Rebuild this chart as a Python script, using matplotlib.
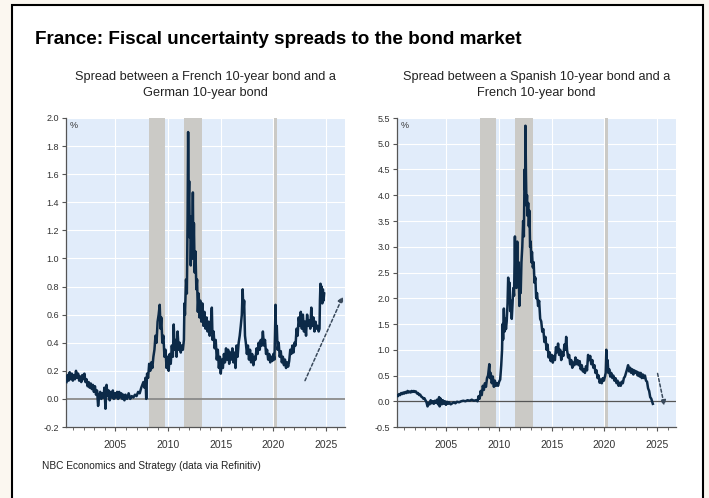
import matplotlib
matplotlib.use('Agg')
import matplotlib.pyplot as plt
from matplotlib.patches import Rectangle
from matplotlib.ticker import MultipleLocator, FormatStrFormatter

plt.rcParams['font.family'] = ['Liberation Sans', 'DejaVu Sans']

# France - Germany 10y spread (%)
fr_de_years = [
    2000.35, 2000.45, 2000.55, 2000.65, 2000.75, 2000.85, 2000.95, 2001.05, 2001.15, 2001.25,
    2001.35, 2001.45, 2001.55, 2001.65, 2001.75, 2001.85, 2001.95, 2002.05, 2002.15, 2002.25,
    2002.35, 2002.45, 2002.55, 2002.65, 2002.75, 2002.85, 2002.95, 2003.05, 2003.15, 2003.25,
    2003.35, 2003.45, 2003.55, 2003.65, 2003.75, 2003.85, 2003.95, 2004.05, 2004.15, 2004.25,
    2004.35, 2004.45, 2004.55, 2004.65, 2004.75, 2004.85, 2004.95, 2005.05, 2005.15, 2005.25,
    2005.35, 2005.45, 2005.55, 2005.65, 2005.75, 2005.85, 2005.95, 2006.1, 2006.25, 2006.4,
    2006.55, 2006.7, 2006.85, 2007.0, 2007.15, 2007.3, 2007.45, 2007.55, 2007.65, 2007.75,
    2007.85, 2007.92, 2008.0, 2008.1, 2008.2, 2008.3, 2008.4, 2008.5, 2008.6, 2008.7,
    2008.8, 2008.9, 2009.0, 2009.1, 2009.2, 2009.28, 2009.35, 2009.45, 2009.55, 2009.65,
    2009.75, 2009.85, 2009.95, 2010.05, 2010.15, 2010.25, 2010.35, 2010.45, 2010.53, 2010.62,
    2010.72, 2010.8, 2010.9, 2011.0, 2011.1, 2011.2, 2011.3, 2011.4, 2011.5, 2011.55,
    2011.6, 2011.7, 2011.78, 2011.85, 2011.9, 2011.95, 2012.0, 2012.05, 2012.1, 2012.15,
    2012.22, 2012.28, 2012.35, 2012.4, 2012.45, 2012.52, 2012.6, 2012.68, 2012.75, 2012.82,
    2012.9, 2012.98, 2013.05, 2013.15, 2013.25, 2013.35, 2013.45, 2013.55, 2013.65, 2013.75,
    2013.85, 2013.95, 2014.05, 2014.15, 2014.22, 2014.32, 2014.42, 2014.52, 2014.62, 2014.72,
    2014.82, 2014.92, 2015.0, 2015.1, 2015.2, 2015.3, 2015.4, 2015.5, 2015.6, 2015.7,
    2015.8, 2015.9, 2016.0, 2016.1, 2016.2, 2016.3, 2016.4, 2016.5, 2016.6, 2016.7,
    2016.8, 2016.9, 2017.0, 2017.08, 2017.15, 2017.22, 2017.3, 2017.38, 2017.48, 2017.58,
    2017.68, 2017.78, 2017.88, 2017.98, 2018.1, 2018.2, 2018.3, 2018.4, 2018.5, 2018.6,
    2018.7, 2018.8, 2018.9, 2019.0, 2019.1, 2019.2, 2019.3, 2019.4, 2019.5, 2019.6,
    2019.7, 2019.8, 2019.9, 2020.0, 2020.1, 2020.2, 2020.25, 2020.32, 2020.4, 2020.5,
    2020.6, 2020.7, 2020.8, 2020.9, 2021.0, 2021.1, 2021.2, 2021.3, 2021.4, 2021.5,
    2021.6, 2021.7, 2021.8, 2021.9, 2022.0, 2022.1, 2022.2, 2022.3, 2022.4, 2022.5,
    2022.6, 2022.7, 2022.8, 2022.9, 2023.0, 2023.1, 2023.2, 2023.3, 2023.4, 2023.5,
    2023.6, 2023.7, 2023.8, 2023.9, 2024.0, 2024.1, 2024.2, 2024.3, 2024.38, 2024.42,
    2024.47, 2024.52, 2024.58, 2024.64, 2024.7, 2024.76, 2024.82,
]
fr_de_spread = [
    0.12, 0.17, 0.13, 0.19, 0.14, 0.18, 0.13, 0.17, 0.14, 0.20,
    0.15, 0.18, 0.13, 0.16, 0.12, 0.17, 0.14, 0.18, 0.12, 0.14,
    0.09, 0.12, 0.08, 0.11, 0.07, 0.10, 0.05, 0.09, 0.03, 0.06,
    -0.05, 0.02, 0.05, 0.00, 0.04, 0.01, 0.08, -0.07, 0.10, 0.02,
    0.06, -0.01, 0.05, 0.01, 0.06, 0.00, 0.04, 0.01, 0.05, 0.00,
    0.05, 0.01, 0.04, 0.00, 0.03, -0.01, 0.03, 0.00, 0.04, 0.00,
    0.02, 0.01, 0.03, 0.02, 0.05, 0.04, 0.08, 0.10, 0.12, 0.08,
    0.15, 0.00, 0.18, 0.15, 0.25, 0.20, 0.26, 0.22, 0.30, 0.35,
    0.45, 0.40, 0.55, 0.60, 0.67, 0.50, 0.58, 0.40, 0.45, 0.30,
    0.35, 0.22, 0.30, 0.20, 0.32, 0.25, 0.38, 0.30, 0.53, 0.35,
    0.42, 0.30, 0.48, 0.35, 0.40, 0.33, 0.38, 0.35, 0.42, 0.68,
    0.60, 0.85, 0.75, 1.30, 1.90, 1.40, 1.55, 1.15, 1.30, 0.95,
    1.20, 1.00, 1.47, 1.00, 1.25, 0.90, 1.05, 0.78, 0.85, 0.62,
    0.75, 0.58, 0.70, 0.55, 0.68, 0.52, 0.62, 0.50, 0.58, 0.48,
    0.55, 0.45, 0.52, 0.65, 0.42, 0.48, 0.36, 0.42, 0.28, 0.35,
    0.22, 0.30, 0.18, 0.28, 0.22, 0.32, 0.26, 0.36, 0.28, 0.35,
    0.25, 0.33, 0.28, 0.36, 0.26, 0.33, 0.22, 0.38, 0.30, 0.40,
    0.45, 0.52, 0.60, 0.78, 0.62, 0.70, 0.45, 0.40, 0.32, 0.38,
    0.28, 0.35, 0.26, 0.32, 0.24, 0.30, 0.28, 0.36, 0.32, 0.40,
    0.35, 0.42, 0.38, 0.48, 0.38, 0.42, 0.32, 0.35, 0.28, 0.32,
    0.26, 0.30, 0.27, 0.32, 0.28, 0.67, 0.45, 0.52, 0.35, 0.40,
    0.30, 0.34, 0.26, 0.30, 0.24, 0.28, 0.22, 0.26, 0.23, 0.27,
    0.35, 0.32, 0.38, 0.33, 0.40, 0.38, 0.50, 0.45, 0.58, 0.52,
    0.62, 0.50, 0.60, 0.48, 0.55, 0.45, 0.60, 0.52, 0.56, 0.50,
    0.65, 0.52, 0.58, 0.48, 0.55, 0.50, 0.52, 0.48, 0.50, 0.70,
    0.82, 0.72, 0.80, 0.68, 0.78, 0.70, 0.75,
]

# Spain - France 10y spread (%)
es_fr_years = [
    2000.2, 2000.3, 2000.4, 2000.5, 2000.6, 2000.7, 2000.8, 2000.9, 2001.0, 2001.1,
    2001.2, 2001.3, 2001.4, 2001.5, 2001.6, 2001.7, 2001.8, 2001.9, 2002.0, 2002.1,
    2002.2, 2002.3, 2002.4, 2002.5, 2002.6, 2002.7, 2002.8, 2002.9, 2003.0, 2003.1,
    2003.2, 2003.3, 2003.4, 2003.5, 2003.6, 2003.7, 2003.8, 2003.9, 2004.0, 2004.1,
    2004.2, 2004.3, 2004.35, 2004.45, 2004.55, 2004.65, 2004.75, 2004.85, 2004.95, 2005.05,
    2005.15, 2005.25, 2005.4, 2005.55, 2005.7, 2005.85, 2006.0, 2006.2, 2006.4, 2006.6,
    2006.8, 2007.0, 2007.2, 2007.4, 2007.6, 2007.8, 2007.95, 2008.05, 2008.15, 2008.25,
    2008.35, 2008.45, 2008.55, 2008.65, 2008.75, 2008.85, 2008.95, 2009.07, 2009.12, 2009.2,
    2009.3, 2009.4, 2009.5, 2009.6, 2009.7, 2009.8, 2009.9, 2010.0, 2010.1, 2010.2,
    2010.28, 2010.33, 2010.38, 2010.45, 2010.5, 2010.58, 2010.65, 2010.72, 2010.8, 2010.86,
    2010.92, 2011.0, 2011.05, 2011.12, 2011.2, 2011.28, 2011.35, 2011.42, 2011.5, 2011.55,
    2011.6, 2011.65, 2011.72, 2011.78, 2011.85, 2011.92, 2011.98, 2012.05, 2012.12, 2012.2,
    2012.28, 2012.35, 2012.42, 2012.47, 2012.5, 2012.55, 2012.6, 2012.65, 2012.7, 2012.76,
    2012.82, 2012.88, 2012.94, 2013.0, 2013.06, 2013.12, 2013.2, 2013.28, 2013.36, 2013.44,
    2013.52, 2013.6, 2013.7, 2013.8, 2013.9, 2014.0, 2014.1, 2014.2, 2014.3, 2014.4,
    2014.5, 2014.6, 2014.7, 2014.8, 2014.9, 2015.0, 2015.1, 2015.2, 2015.3, 2015.4,
    2015.5, 2015.6, 2015.7, 2015.8, 2015.9, 2016.0, 2016.1, 2016.2, 2016.3, 2016.37,
    2016.45, 2016.55, 2016.65, 2016.75, 2016.85, 2016.95, 2017.05, 2017.15, 2017.25, 2017.35,
    2017.45, 2017.55, 2017.65, 2017.75, 2017.85, 2017.95, 2018.05, 2018.15, 2018.25, 2018.35,
    2018.45, 2018.55, 2018.65, 2018.75, 2018.85, 2018.95, 2019.05, 2019.15, 2019.25, 2019.35,
    2019.45, 2019.55, 2019.65, 2019.75, 2019.85, 2019.95, 2020.05, 2020.12, 2020.18, 2020.23,
    2020.3, 2020.38, 2020.46, 2020.55, 2020.65, 2020.75, 2020.85, 2020.95, 2021.05, 2021.15,
    2021.25, 2021.35, 2021.45, 2021.55, 2021.65, 2021.75, 2021.85, 2021.95, 2022.05, 2022.15,
    2022.25, 2022.35, 2022.45, 2022.55, 2022.65, 2022.75, 2022.85, 2022.95, 2023.05, 2023.15,
    2023.25, 2023.35, 2023.45, 2023.55, 2023.65, 2023.75, 2023.85, 2023.95, 2024.05, 2024.15,
    2024.25, 2024.35, 2024.45, 2024.55, 2024.6,
]
es_fr_spread = [
    0.08, 0.12, 0.10, 0.14, 0.12, 0.16, 0.14, 0.17, 0.15, 0.18,
    0.16, 0.20, 0.17, 0.19, 0.17, 0.20, 0.18, 0.20, 0.18, 0.19,
    0.15, 0.16, 0.12, 0.13, 0.09, 0.08, 0.05, 0.06, 0.02, -0.02,
    -0.10, -0.03, -0.06, 0.02, -0.04, 0.00, -0.05, 0.01, -0.03, 0.03,
    -0.06, 0.08, -0.10, 0.05, -0.06, 0.02, -0.05, 0.00, -0.07, -0.01,
    -0.05, -0.02, -0.06, -0.04, -0.02, -0.04, -0.01, -0.02, 0.00, 0.01,
    0.00, 0.02, 0.01, 0.03, 0.01, 0.02, 0.00, 0.10, 0.05, 0.20,
    0.12, 0.30, 0.22, 0.35, 0.28, 0.45, 0.50, 0.72, 0.45, 0.55,
    0.35, 0.48, 0.28, 0.40, 0.30, 0.35, 0.30, 0.38, 0.42, 0.70,
    1.00, 1.50, 1.20, 1.80, 1.35, 1.60, 1.40, 1.55, 1.90, 2.40,
    2.00, 2.30, 1.75, 1.95, 1.60, 1.90, 2.20, 2.05, 3.20, 2.40,
    2.80, 2.20, 3.10, 2.30, 2.70, 1.85, 2.40, 2.10, 2.70, 3.00,
    3.50, 3.20, 4.50, 4.10, 5.35, 4.40, 3.80, 4.00, 3.60, 3.85,
    3.40, 3.70, 3.00, 3.10, 2.70, 2.90, 2.60, 2.70, 2.30, 2.40,
    2.00, 2.10, 1.85, 1.95, 1.60, 1.55, 1.35, 1.40, 1.15, 1.25,
    1.00, 1.10, 0.85, 0.95, 0.78, 0.90, 0.75, 0.88, 0.80, 1.05,
    0.95, 1.12, 0.90, 1.00, 0.80, 0.95, 0.88, 1.10, 1.00, 1.25,
    1.00, 0.85, 0.90, 0.72, 0.80, 0.65, 0.75, 0.70, 0.85, 0.72,
    0.80, 0.70, 0.78, 0.62, 0.70, 0.58, 0.62, 0.55, 0.68, 0.60,
    0.90, 0.80, 0.88, 0.72, 0.80, 0.65, 0.70, 0.55, 0.60, 0.45,
    0.50, 0.36, 0.42, 0.35, 0.45, 0.40, 0.48, 0.55, 1.00, 0.70,
    0.80, 0.55, 0.62, 0.48, 0.55, 0.45, 0.50, 0.40, 0.45, 0.35,
    0.40, 0.30, 0.36, 0.30, 0.38, 0.35, 0.45, 0.48, 0.55, 0.62,
    0.70, 0.58, 0.65, 0.55, 0.62, 0.52, 0.60, 0.55, 0.58, 0.50,
    0.56, 0.48, 0.55, 0.45, 0.52, 0.45, 0.50, 0.40, 0.38, 0.25,
    0.20, 0.08, 0.05, -0.02, -0.05,
]

recessions = [(2008.2, 2009.75), (2011.55, 2013.25), (2020.1, 2020.35)]

# dotted trend arrows (tail, tip)
fr_de_arrow = [(2023.0, 0.13), (2026.6, 0.73)]
es_fr_arrow = [(2025.05, 0.54), (2025.7, -0.09)]

titles = ['Spread between a French 10-year bond and a\nGerman 10-year bond',
          'Spread between a Spanish 10-year bond and a\nFrench 10-year bond']

W, H = 709, 498
fig = plt.figure(figsize=(W / 100, H / 100), dpi=100, facecolor='#fbf7f0')
fig.patches.append(Rectangle((12 / W, -0.05), (703 - 12) / W, 1.05 - 5 / H,
                             transform=fig.transFigure, facecolor='white',
                             edgecolor='black', lw=1.5, zorder=-5))

fig.text(35 / W, 1 - 40 / H, 'France: Fiscal uncertainty spreads to the bond market',
         fontsize=13.6, fontweight='bold', va='center', ha='left')

line_col = '#0c2a48'
panels = [
    (66, fr_de_years, fr_de_spread, (-0.2, 2.0), 0.2, fr_de_arrow, '#8a8a8a', 1.3),
    (397, es_fr_years, es_fr_spread, (-0.5, 5.5), 0.5, es_fr_arrow, '#555555', 0.9),
]

for i, (left, xs, ys, ylim, step, arrow, zcol, zlw) in enumerate(panels):
    ax = fig.add_axes([left / W, 1 - 427 / H, 279 / W, 309 / H])
    ax.set_facecolor('#e1ecfa')
    ax.set_axisbelow(True)
    ax.grid(True, color='white', lw=0.8)
    for a, b in recessions:
        ax.axvspan(a, b, color='#cbcac6', lw=0, zorder=1)
    ax.axhline(0, color=zcol, lw=zlw, zorder=2)
    ax.plot(xs, ys, color=line_col, lw=1.8, zorder=3)
    ax.annotate('', xy=arrow[1], xytext=arrow[0],
                arrowprops=dict(arrowstyle='-|>', ls=(0, (2, 1.5)), color='#3a4a5c',
                                lw=1.1, mutation_scale=8, shrinkA=0, shrinkB=0),
                zorder=4)

    ax.set_xlim(2000.3, 2026.8)
    ax.set_ylim(*ylim)
    ax.xaxis.set_major_locator(MultipleLocator(5))
    ax.xaxis.set_minor_locator(MultipleLocator(1))
    ax.yaxis.set_major_locator(MultipleLocator(step))
    ax.yaxis.set_major_formatter(FormatStrFormatter('%.1f'))
    ax.tick_params(axis='x', which='major', labelsize=7.5, length=3, color='#555', labelcolor='#333', pad=6)
    ax.tick_params(axis='x', which='minor', length=2, color='#555')
    ax.tick_params(axis='y', labelsize=6.5, length=3, color='#555', labelcolor='#333', pad=2)
    for s in ['top', 'right']:
        ax.spines[s].set_visible(False)
    for s in ['left', 'bottom']:
        ax.spines[s].set_color('#555555')
        ax.spines[s].set_linewidth(0.9)

    ax.text(0.012, 0.99, '%', transform=ax.transAxes, fontsize=6.5, va='top', ha='left', color='#333')
    fig.text((left + 139.5) / W, 1 - 85 / H, titles[i], fontsize=9.2, ha='center',
             va='center', linespacing=1.55, color='#222')

fig.text(42 / W, 1 - 466 / H, 'NBC Economics and Strategy (data via Refinitiv)',
         fontsize=7.3, va='center', ha='left', color='#222')

fig.savefig('out.png', dpi=100, facecolor=fig.get_facecolor())
